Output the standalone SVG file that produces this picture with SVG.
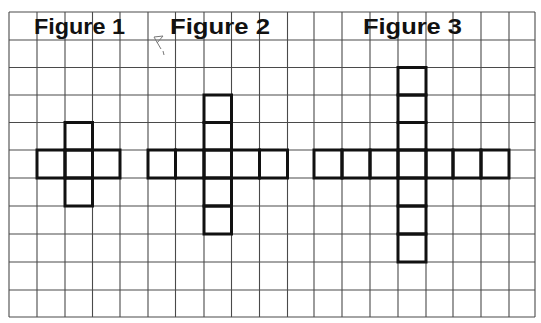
<svg xmlns="http://www.w3.org/2000/svg" width="541" height="323" viewBox="0 0 541 323">
<style>
.grid line{stroke:#4a4a4a;stroke-width:1.1}
.cell{fill:none;stroke:#111;stroke-width:3;stroke-linejoin:miter}
.title{font-family:"Liberation Sans",Arial,sans-serif;font-weight:bold;font-size:22px;fill:#111}
</style>
<rect width="541" height="323" fill="#fff"/>
<g id="grid" class="grid">
<line x1="9" y1="12" x2="9" y2="317"/>
<line x1="37" y1="12" x2="37" y2="317"/>
<line x1="65" y1="12" x2="65" y2="317"/>
<line x1="92.5" y1="12" x2="92.5" y2="317"/>
<line x1="120" y1="12" x2="120" y2="317"/>
<line x1="148" y1="12" x2="148" y2="317"/>
<line x1="175.5" y1="12" x2="175.5" y2="317"/>
<line x1="204" y1="12" x2="204" y2="317"/>
<line x1="231.5" y1="12" x2="231.5" y2="317"/>
<line x1="259.5" y1="12" x2="259.5" y2="317"/>
<line x1="287.5" y1="12" x2="287.5" y2="317"/>
<line x1="314" y1="12" x2="314" y2="317"/>
<line x1="342" y1="12" x2="342" y2="317"/>
<line x1="370" y1="12" x2="370" y2="317"/>
<line x1="398" y1="12" x2="398" y2="317"/>
<line x1="426" y1="12" x2="426" y2="317"/>
<line x1="453" y1="12" x2="453" y2="317"/>
<line x1="481" y1="12" x2="481" y2="317"/>
<line x1="509" y1="12" x2="509" y2="317"/>
<line x1="535" y1="12" x2="535" y2="317"/>
<line x1="9" y1="12" x2="535" y2="12"/>
<line x1="9" y1="40" x2="535" y2="40"/>
<line x1="9" y1="67.5" x2="535" y2="67.5"/>
<line x1="9" y1="95" x2="535" y2="95"/>
<line x1="9" y1="122.5" x2="535" y2="122.5"/>
<line x1="9" y1="150" x2="535" y2="150"/>
<line x1="9" y1="178" x2="535" y2="178"/>
<line x1="9" y1="206" x2="535" y2="206"/>
<line x1="9" y1="234" x2="535" y2="234"/>
<line x1="9" y1="262" x2="535" y2="262"/>
<line x1="9" y1="290" x2="535" y2="290"/>
<line x1="9" y1="317" x2="535" y2="317"/>
</g>
<g id="figure1">
<text class="title" x="34" y="34" textLength="91" lengthAdjust="spacingAndGlyphs">Figure 1</text>
<rect class="cell" x="65" y="122.5" width="27.5" height="27.5"/>
<rect class="cell" x="37" y="150" width="28" height="28"/>
<rect class="cell" x="65" y="150" width="27.5" height="28"/>
<rect class="cell" x="92.5" y="150" width="27.5" height="28"/>
<rect class="cell" x="65" y="178" width="27.5" height="28"/>
</g>
<g id="figure2">
<text class="title" x="170" y="34" textLength="100" lengthAdjust="spacingAndGlyphs">Figure 2</text>
<rect class="cell" x="204" y="95" width="27.5" height="27.5"/>
<rect class="cell" x="204" y="122.5" width="27.5" height="27.5"/>
<rect class="cell" x="148" y="150" width="27.5" height="28"/>
<rect class="cell" x="175.5" y="150" width="28.5" height="28"/>
<rect class="cell" x="204" y="150" width="27.5" height="28"/>
<rect class="cell" x="231.5" y="150" width="28" height="28"/>
<rect class="cell" x="259.5" y="150" width="28" height="28"/>
<rect class="cell" x="204" y="178" width="27.5" height="28"/>
<rect class="cell" x="204" y="206" width="27.5" height="28"/>
</g>
<g id="figure3">
<text class="title" x="363" y="34" textLength="99" lengthAdjust="spacingAndGlyphs">Figure 3</text>
<rect class="cell" x="398" y="67.5" width="28" height="27.5"/>
<rect class="cell" x="398" y="95" width="28" height="27.5"/>
<rect class="cell" x="398" y="122.5" width="28" height="27.5"/>
<rect class="cell" x="314" y="150" width="28" height="28"/>
<rect class="cell" x="342" y="150" width="28" height="28"/>
<rect class="cell" x="370" y="150" width="28" height="28"/>
<rect class="cell" x="398" y="150" width="28" height="28"/>
<rect class="cell" x="426" y="150" width="27" height="28"/>
<rect class="cell" x="453" y="150" width="28" height="28"/>
<rect class="cell" x="481" y="150" width="28" height="28"/>
<rect class="cell" x="398" y="178" width="28" height="28"/>
<rect class="cell" x="398" y="206" width="28" height="28"/>
<rect class="cell" x="398" y="234" width="28" height="28"/>
</g>
<path d="M154,37 L163,36 L157,43 M154,37 L161,49 M163,51 L164,55" fill="none" stroke="#777" stroke-width="1"/>
</svg>
